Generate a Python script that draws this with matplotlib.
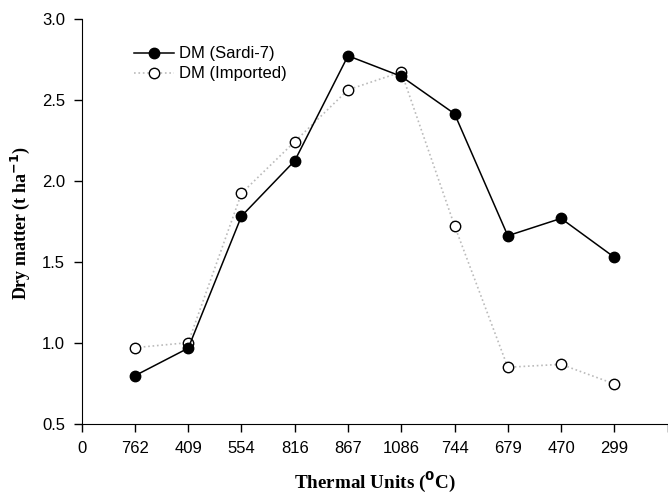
import matplotlib
matplotlib.use("Agg")
import matplotlib.pyplot as plt

tick_labels = ["0", "762", "409", "554", "816", "867", "1086", "744", "679", "470", "299"]
sardi7 = [0.80, 0.97, 1.785, 2.127, 2.775, 2.648, 2.417, 1.664, 1.771, 1.531]
imported = [0.973, 1.004, 1.926, 2.245, 2.565, 2.675, 1.726, 0.852, 0.870, 0.749]

plt.rcParams['font.family'] = ['Liberation Sans', 'DejaVu Sans']

fig = plt.figure(figsize=(6.68, 4.96), dpi=100)
ax = fig.add_axes([0.1223, 0.1446, 0.8771, 0.8164])

xs = list(range(1, len(sardi7) + 1))
ax.plot(xs, imported, linestyle=':', color='#bbbbbb', linewidth=1.2,
        marker='o', markersize=7.5, markerfacecolor='white',
        markeredgecolor='black', markeredgewidth=1.0, label='DM (Imported)', zorder=2)
ax.plot(xs, sardi7, linestyle='-', color='black', linewidth=1.1,
        marker='o', markersize=7.5, markerfacecolor='black',
        markeredgecolor='black', label='DM (Sardi-7)', zorder=3)

ax.set_xlim(0, 11)
ax.set_ylim(0.5, 3.0)
ax.set_xticks(range(0, 12))
ax.set_xticklabels(tick_labels + [""])
ax.set_yticks([0.5, 1.0, 1.5, 2.0, 2.5, 3.0])
ax.set_yticklabels(["0.5", "1.0", "1.5", "2.0", "2.5", "3.0"])
ax.tick_params(direction='out', length=6, width=1, labelsize=12, pad=6)
ax.spines['top'].set_visible(False)
ax.spines['right'].set_visible(False)

handles, labels = ax.get_legend_handles_labels()
ax.legend(handles[::-1], labels[::-1], loc='upper left', bbox_to_anchor=(0.064, 0.97),
          frameon=False, fontsize=12, handlelength=2.4, handletextpad=0.3,
          labelspacing=0.3)

fig.text(0.561, 0.004, r"Thermal Units ($\mathbf{^0}$C)", ha='center', va='bottom',
         fontsize=13.8, fontweight='bold', family='Liberation Serif')
fig.text(0.03, 0.55, r"Dry matter (t ha$\mathbf{^{-1}}$)", ha='center', va='center',
         rotation=90, fontsize=13, fontweight='bold', family='Liberation Serif')

fig.savefig("out.png", dpi=100)
